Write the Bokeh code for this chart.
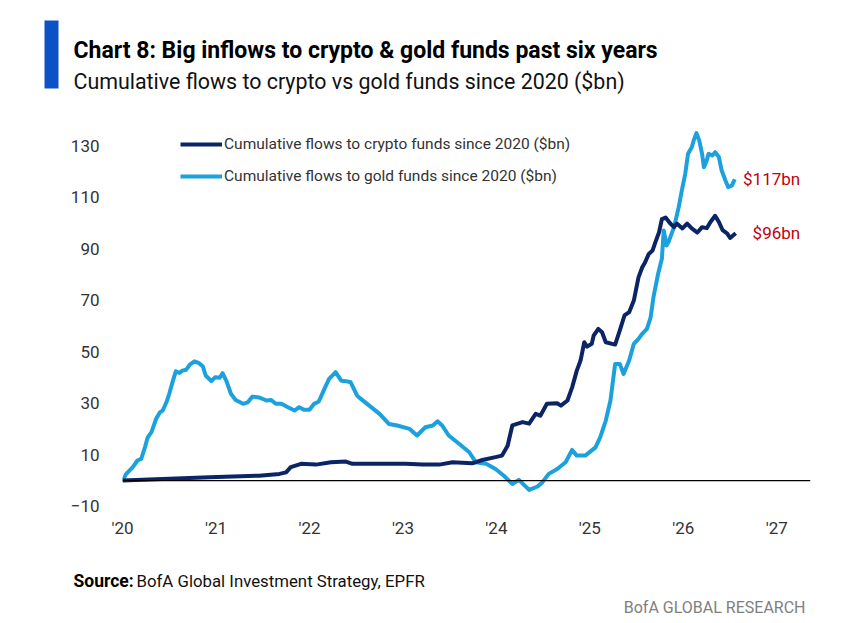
from bokeh.plotting import figure
from bokeh.layouts import column
from bokeh.models import Range1d, FixedTicker, Span, Label, BoxAnnotation
from bokeh.embed import file_html
from bokeh.resources import INLINE

FONT = "Roboto"

# ---------------- data ----------------
year_ticks = [2020, 2021, 2022, 2023, 2024, 2025, 2026, 2027]
year_labels = ["'20", "'21", "'22", "'23", "'24", "'25", "'26", "'27"]
value_ticks = [-10, 10, 30, 50, 70, 90, 110, 130]

crypto_x = [2020.00, 2020.50, 2020.93, 2021.46, 2021.68, 2021.75, 2021.80, 2021.91,
            2022.07, 2022.23, 2022.39, 2022.46, 2022.67, 2023.03, 2023.21, 2023.39,
            2023.53, 2023.74, 2023.85, 2023.99, 2024.06, 2024.12, 2024.17, 2024.28,
            2024.35, 2024.42, 2024.47, 2024.54, 2024.65, 2024.69, 2024.76, 2024.81,
            2024.86, 2024.90, 2024.94, 2024.97, 2025.02, 2025.04, 2025.09, 2025.13,
            2025.17, 2025.27, 2025.32, 2025.37, 2025.42, 2025.47, 2025.52, 2025.56,
            2025.59, 2025.63, 2025.67, 2025.70, 2025.74, 2025.77, 2025.81, 2025.86,
            2025.90, 2025.93, 2025.99, 2026.04, 2026.09, 2026.15, 2026.20, 2026.25,
            2026.29, 2026.34, 2026.38, 2026.42, 2026.47, 2026.50, 2026.56]
crypto_y = [0.0, 0.7, 1.3, 1.9, 2.6, 3.2, 5.2, 6.5,
            6.2, 7.1, 7.4, 6.5, 6.5, 6.5, 6.2, 6.2,
            7.1, 6.7, 8.0, 9.1, 9.7, 13.5, 21.4, 22.7,
            22.1, 25.9, 25.2, 29.8, 30.0, 29.1, 31.1, 36.2,
            42.7, 46.6, 53.7, 52.0, 53.1, 56.3, 58.9, 57.6,
            53.7, 52.8, 58.3, 64.1, 65.4, 69.9, 78.9, 82.8,
            84.7, 88.0, 89.3, 92.5, 96.4, 101.5, 102.1, 99.8,
            98.4, 99.8, 97.9, 99.8, 97.9, 96.3, 98.4, 98.0,
            100.4, 102.8, 100.4, 97.2, 95.9, 94.2, 96.0]

gold_x = [2020.00, 2020.04, 2020.11, 2020.16, 2020.20, 2020.24, 2020.27, 2020.31,
          2020.36, 2020.40, 2020.43, 2020.47, 2020.50, 2020.54, 2020.57, 2020.61,
          2020.64, 2020.68, 2020.72, 2020.77, 2020.82, 2020.86, 2020.89, 2020.95,
          2020.99, 2021.04, 2021.07, 2021.11, 2021.16, 2021.21, 2021.29, 2021.34,
          2021.39, 2021.46, 2021.54, 2021.59, 2021.64, 2021.70, 2021.77, 2021.84,
          2021.89, 2021.94, 2022.00, 2022.05, 2022.10, 2022.16, 2022.21, 2022.28,
          2022.34, 2022.39, 2022.44, 2022.51, 2022.53, 2022.64, 2022.75, 2022.85,
          2022.94, 2023.07, 2023.15, 2023.24, 2023.32, 2023.37, 2023.42, 2023.49,
          2023.60, 2023.71, 2023.78, 2023.89, 2023.99, 2024.08, 2024.17, 2024.24,
          2024.35, 2024.44, 2024.49, 2024.56, 2024.65, 2024.74, 2024.81, 2024.86,
          2024.95, 2025.06, 2025.11, 2025.17, 2025.22, 2025.27, 2025.32, 2025.36,
          2025.42, 2025.47, 2025.52, 2025.56, 2025.61, 2025.65, 2025.68, 2025.73,
          2025.77, 2025.79, 2025.82, 2025.84, 2025.90, 2025.95, 2025.98, 2026.02,
          2026.05, 2026.09, 2026.11, 2026.14, 2026.17, 2026.20, 2026.22, 2026.25,
          2026.27, 2026.31, 2026.34, 2026.38, 2026.41, 2026.45, 2026.48, 2026.52,
          2026.55]
gold_y = [0.0, 2.6, 5.2, 7.8, 8.4, 12.9, 16.8, 18.8,
          24.0, 26.5, 27.2, 30.4, 33.7, 38.8, 42.4, 41.8,
          42.7, 43.0, 45.0, 46.3, 45.6, 44.3, 40.8, 38.6,
          40.1, 39.9, 41.7, 38.8, 33.7, 31.3, 29.8, 30.4,
          32.6, 32.3, 31.1, 31.3, 29.8, 29.8, 28.5, 27.2,
          28.5, 27.5, 27.5, 29.8, 30.7, 35.6, 39.5, 42.1,
          38.8, 38.6, 38.2, 33.0, 32.3, 29.1, 25.9, 22.0,
          21.4, 20.1, 17.5, 20.7, 21.4, 23.0, 21.4, 17.5,
          14.3, 11.0, 7.1, 6.5, 4.5, 1.9, -1.3, 0.3,
          -3.6, -2.3, -0.7, 2.6, 4.5, 7.1, 11.9, 9.7,
          9.7, 12.9, 16.8, 23.3, 31.1, 45.3, 45.3, 41.4,
          46.6, 53.1, 55.0, 57.0, 58.9, 63.4, 71.2, 80.3,
          86.1, 97.1, 91.3, 92.5, 98.4, 106.1, 112.0, 119.1,
          126.9, 129.4, 132.0, 134.9, 132.0, 126.9, 121.7, 124.3,
          126.9, 126.2, 127.5, 125.6, 120.4, 116.5, 113.9, 114.6,
          117.0]

crypto_label = "Cumulative flows to crypto funds since 2020 ($bn)"
gold_label = "Cumulative flows to gold funds since 2020 ($bn)"

NAVY = "#0B2466"
SKY = "#1BA1DD"
RED = "#C00010"
W = 857


def blank(h):
    f = figure(width=W, height=h, x_range=Range1d(0, W), y_range=Range1d(h, 0),
               x_axis_type=None, y_axis_type=None, output_backend="svg",
               toolbar_location=None, min_border=0, frame_align=False)
    f.outline_line_color = None
    f.grid.visible = False
    f.title.visible = False
    return f


# ---------------- header ----------------
head = blank(100)
head.add_layout(BoxAnnotation(left=44, right=58, top=20, bottom=88,
                              fill_color="#0A52C6", fill_alpha=1, line_alpha=0))
head.add_layout(Label(x=73, y=50, text="Chart 8: Big inflows to crypto & gold funds past six years",
                      text_font=FONT, text_font_style="bold", text_font_size="23px",
                      text_color="black", text_baseline="alphabetic"))
head.add_layout(Label(x=73, y=81, text="Cumulative flows to crypto vs gold funds since 2020 ($bn)",
                      text_font=FONT, text_font_size="21.4px",
                      text_color="#111111", text_baseline="alphabetic"))

# ---------------- main chart ----------------
p = figure(width=W, height=448,
           x_range=Range1d(2020, 2027.36), y_range=Range1d(-12.0, 139.8),
           output_backend="svg", toolbar_location=None, frame_align=False,
           min_border_left=122, min_border_right=47,
           min_border_top=20, min_border_bottom=37)
p.title.visible = False
p.outline_line_color = None
p.grid.visible = False

p.xaxis.ticker = FixedTicker(ticks=year_ticks)
p.xaxis.major_label_overrides = {t: l for t, l in zip(year_ticks, year_labels)}
p.yaxis.ticker = FixedTicker(ticks=value_ticks)
for ax in (p.xaxis, p.yaxis):
    ax.axis_line_color = None
    ax.major_tick_line_color = None
    ax.minor_tick_line_color = None
    ax.major_label_text_font = FONT
    ax.major_label_text_font_size = "17px"
    ax.major_label_text_color = "#333333"
p.xaxis.major_label_standoff = 0
p.yaxis.major_label_standoff = 17

p.add_layout(Span(location=0, dimension="width", line_color="black", line_width=1.3))

p.line(gold_x, gold_y, line_color=SKY, line_width=4, line_join="round", legend_label=gold_label)
p.line(crypto_x, crypto_y, line_color=NAVY, line_width=4, line_join="round", legend_label=crypto_label)

lg = p.legend[0]
lg.items = [lg.items[1], lg.items[0]]
lg.location = (58, 325)
lg.padding = 0
lg.margin = 0
lg.spacing = 12
lg.glyph_width = 42
lg.glyph_height = 20
lg.label_height = 20
lg.label_standoff = 2
lg.label_text_font = FONT
lg.label_text_font_size = "15.5px"
lg.label_text_color = "#333333"
lg.border_line_alpha = 0
lg.background_fill_alpha = 0

for val in (gold_y[-1], crypto_y[-1]):
    p.add_layout(Label(x=2027.25, y=val, text="$%dbn" % round(val),
                       text_align="right", text_baseline="middle", text_color=RED,
                       text_font=FONT, text_font_size="17px"))

# ---------------- footer ----------------
foot = blank(75)
foot.add_layout(Label(x=73, y=32, text="Source:", text_font=FONT, text_font_style="bold",
                      text_font_size="17.5px", text_color="black", text_baseline="alphabetic"))
foot.add_layout(Label(x=136, y=32, text="BofA Global Investment Strategy, EPFR", text_font=FONT,
                      text_font_size="16.8px", text_color="#111111", text_baseline="alphabetic"))
foot.add_layout(Label(x=805, y=59, text="BofA GLOBAL RESEARCH", text_font=FONT, text_align="right",
                      text_font_size="16px", text_color="#808080", text_baseline="alphabetic"))

layout = column(head, p, foot, spacing=0)
open("out.html", "w").write(file_html(layout, INLINE))
